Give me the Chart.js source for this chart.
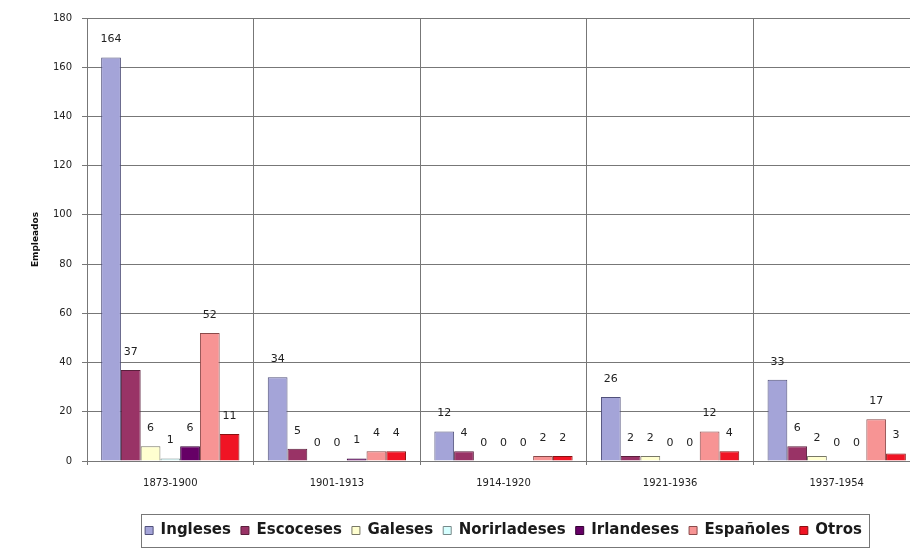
<!DOCTYPE html>
<html><head><meta charset="utf-8">
<script src="https://cdn.jsdelivr.net/npm/chart.js@4/dist/chart.umd.min.js"></script>
<style>html,body{margin:0;padding:0;background:#fff;overflow:hidden}#wrap{width:922px;height:548px;position:relative}</style>
</head><body><div id="wrap"><canvas id="c" width="922" height="548"></canvas></div>
<script>
const categories = ['1873-1900','1901-1913','1914-1920','1921-1936','1937-1954'];
const seriesNames = ['Ingleses','Escoceses','Galeses','Norirladeses','Irlandeses','Españoles','Otros'];
const ingleses     = [164, 34, 12, 26, 33];
const escoceses    = [37, 5, 4, 2, 6];
const galeses      = [6, 0, 0, 2, 2];
const norirladeses = [1, 0, 0, 0, 0];
const irlandeses   = [6, 1, 0, 0, 0];
const espanoles    = [52, 4, 2, 12, 17];
const otros        = [11, 4, 2, 4, 3];
const yMin = 0, yMax = 180, yStep = 20;

const seriesValues = [ingleses, escoceses, galeses, norirladeses, irlandeses, espanoles, otros];
const fills   = ['#A4A4D8','#993366','#FFFFD0','#D6FFFF','#660066','#F79494','#F01424'];
const borders = ['#50507a','#5a1f3c','#777766','#778888','#330033','#8a4a4a','#8a1010'];
const FONT = '"DejaVu Sans", sans-serif';

const valueLabels = {
  id: 'valueLabels',
  afterDatasetsDraw(chart) {
    const ctx = chart.ctx;
    ctx.save();
    ctx.font = '11px ' + FONT;
    ctx.fillStyle = '#222';
    ctx.textAlign = 'center';
    ctx.textBaseline = 'middle';
    chart.data.datasets.forEach((ds, i) => {
      chart.getDatasetMeta(i).data.forEach((bar, j) => {
        ctx.fillText(String(ds.data[j]), bar.x, bar.y - 18);
      });
    });
    ctx.restore();
  }
};
const legendFrame = {
  id: 'legendFrame',
  afterDraw(chart) {
    const lg = chart.legend;
    if (!lg || !lg.legendHitBoxes || !lg.legendHitBoxes.length) return;
    const hb = lg.legendHitBoxes;
    const l = hb[0].left - 4, r = hb[hb.length - 1].left + hb[hb.length - 1].width + 7;
    const t = hb[0].top - 9, b = hb[0].top + hb[0].height + 9;
    const ctx = chart.ctx;
    ctx.save();
    ctx.strokeStyle = '#777';
    ctx.lineWidth = 1;
    ctx.strokeRect(Math.round(l) + 0.5, Math.round(t) + 0.5, Math.round(r - l), Math.round(b - t));
    ctx.restore();
  }
};

new Chart(document.getElementById('c'), {
  type: 'bar',
  data: {
    labels: categories,
    datasets: seriesNames.map((n, i) => ({
      label: n,
      data: seriesValues[i],
      backgroundColor: fills[i],
      borderColor: borders[i],
      borderWidth: 1,
      barPercentage: 1.0,
      categoryPercentage: 0.83
    }))
  },
  options: {
    responsive: false,
    devicePixelRatio: 1,
    animation: false,
    layout: { padding: { left: 0, right: 2, top: 18, bottom: 0 } },
    plugins: {
      tooltip: { enabled: false },
      legend: {
        position: 'bottom',
        fullSize: false,
        labels: {
          font: { family: FONT, size: 15, weight: 'bold' },
          color: '#1a1a1a',
          boxWidth: 8,
          boxHeight: 8,
          padding: 10
        }
      }
    },
    scales: {
      x: {
        grid: { color: '#777', lineWidth: 1, offset: true, tickLength: 4, drawOnChartArea: true },
        border: { display: true, color: '#777' },
        ticks: { font: { family: FONT, size: 10 }, color: '#222', padding: 12, maxRotation: 0 },
        afterFit(s) { s.height = 52; }
      },
      y: {
        min: yMin, max: yMax,
        ticks: { stepSize: yStep, font: { family: FONT, size: 10 }, color: '#222', padding: 10 },
        grid: { color: '#777', lineWidth: 1, tickLength: 5 },
        border: { display: true, color: '#777' },
        title: { display: true, text: 'Empleados', font: { family: FONT, size: 9, weight: 'bold' }, color: '#111', padding: { top: 30, bottom: 0 } },
        afterFit(s) { s.width = 87; }
      }
    }
  },
  plugins: [valueLabels, legendFrame]
});
</script>
</body></html>
